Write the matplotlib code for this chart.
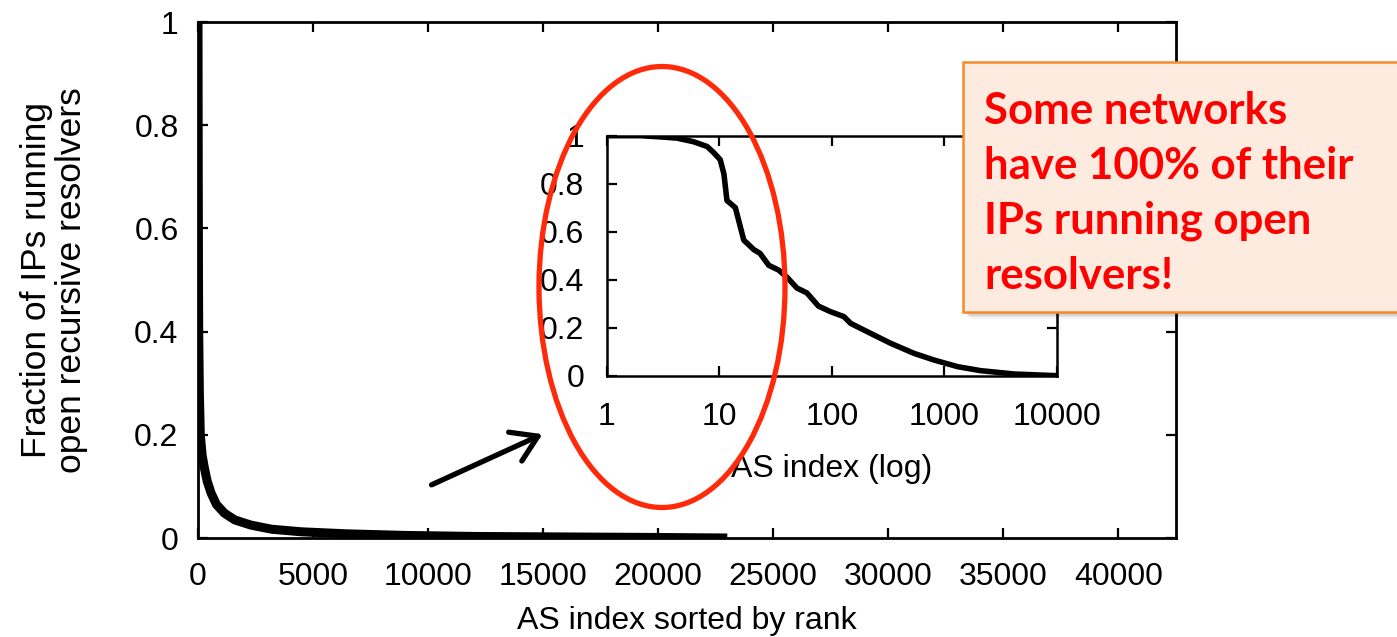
import matplotlib
matplotlib.use("Agg")
import matplotlib.pyplot as plt
from matplotlib.patches import Ellipse, Rectangle, FancyArrowPatch
from matplotlib.ticker import FixedLocator, NullLocator

plt.rcParams['font.family'] = ['Liberation Sans', 'DejaVu Sans']

# ---- data ----
main_rank = [0, 5, 10, 20, 30, 60, 100, 180, 280, 400, 570, 800, 1150, 1600,
             2300, 3200, 4500, 6500, 9000, 12000, 16000, 20000, 23000]
main_frac = [1.0, 0.85, 0.72, 0.52, 0.40, 0.28, 0.20, 0.16, 0.135, 0.11, 0.087,
             0.065, 0.048, 0.035, 0.025, 0.017, 0.012, 0.008, 0.005, 0.003,
             0.002, 0.001, 0.0]

inset_rank = [1, 2, 3, 4.2, 5.9, 7.8, 8.9, 10.2, 11, 11.7, 13.9, 16.5, 20.3, 23,
              27.5, 33.7, 40, 49, 60, 76, 97, 128, 147, 207, 333, 537, 813,
              1313, 2100, 4170, 10000]
inset_frac = [1.0, 1.0, 0.995, 0.99, 0.975, 0.955, 0.93, 0.90, 0.84, 0.73, 0.70,
              0.565, 0.525, 0.51, 0.46, 0.44, 0.41, 0.365, 0.345, 0.29, 0.267,
              0.246, 0.218, 0.183, 0.135, 0.093, 0.065, 0.0375, 0.021, 0.007, 0.0]

main_xticks = [0, 5000, 10000, 15000, 20000, 25000, 30000, 35000, 40000]
main_yticks = [0, 0.2, 0.4, 0.6, 0.8, 1]
main_ytick_labels = ['0', '0.2', '0.4', '0.6', '0.8', '1']
inset_xticks = [1, 10, 100, 1000, 10000]
inset_xtick_labels = ['1', '10', '100', '1000', '10000']

xlabel_main = 'AS index sorted by rank'
ylabel_main = 'Fraction of IPs running\nopen recursive resolvers'
xlabel_inset = 'AS index (log)'
callout = 'Some networks\nhave 100% of their\nIPs running open\nresolvers!'

W, H = 1397, 637
fig = plt.figure(figsize=(W / 100, H / 100), dpi=100)

def fx(px):
    return px / W

def fy(py):
    return 1 - py / H

FS = 23

# ---- main axes ----
ax = fig.add_axes([fx(198), fy(538), fx(1176) - fx(198), fy(22) - fy(538)])
ax.plot(main_rank, main_frac, color='black', lw=6.5, solid_joinstyle='round',
        solid_capstyle='butt')
ax.set_xlim(0, 42500)
ax.set_ylim(0, 1)
ax.set_xticks(main_xticks)
ax.set_xticklabels([str(v) for v in main_xticks])
ax.set_yticks(main_yticks)
ax.set_yticklabels(main_ytick_labels)
ax.tick_params(direction='in', length=7, width=1.6, top=True, right=True,
               labelsize=FS, pad=17)
ax.tick_params(axis='y', pad=14)
for s in ax.spines.values():
    s.set_linewidth(2.0)
ax.set_xlabel(xlabel_main, fontsize=FS, labelpad=10)
ax.set_ylabel(ylabel_main, fontsize=25.5, labelpad=33, linespacing=1.1)

# ---- inset axes ----
ia = fig.add_axes([fx(606.7), fy(375.7), fx(1057) - fx(606.7), fy(135.7) - fy(375.7)])
ia.plot(inset_rank, inset_frac, color='black', lw=4, solid_joinstyle='round')
ia.set_xscale('log')
ia.set_xlim(1, 10000)
ia.set_ylim(0, 1)
ia.xaxis.set_major_locator(FixedLocator(inset_xticks))
ia.xaxis.set_minor_locator(NullLocator())
ia.set_xticklabels(inset_xtick_labels)
ia.set_yticks(main_yticks)
ia.set_yticklabels(main_ytick_labels)
ia.tick_params(direction='in', length=7, width=1.6, top=True, right=True,
               labelsize=FS, pad=19)
ia.tick_params(axis='y', pad=16)
for s in ia.spines.values():
    s.set_linewidth(1.8)
ia.set_xlabel(xlabel_inset, fontsize=FS, labelpad=16)

# ---- red ellipse ----
ell = Ellipse((fx(662), fy(287)), fx(246), 441 / H, transform=fig.transFigure,
              fill=False, edgecolor='#FF2A0A', lw=3.8, zorder=10)
fig.patches.append(ell)

# ---- arrow ----
arr = FancyArrowPatch((fx(429), fy(486)), (fx(545), fy(433)),
                      transform=fig.transFigure, arrowstyle='->,head_length=0.6,head_width=0.38',
                      mutation_scale=30, lw=3.8, color='black', zorder=10)
fig.patches.append(arr)

# ---- callout box with shadow ----
bx0, by0, bx1, by1 = 963, 62, 1420, 312
for i, a in enumerate([0.10, 0.08, 0.06, 0.04]):
    off = 2 + i * 1.5
    sh = Rectangle((fx(bx0 + off), fy(by1 + off)), fx(bx1 - bx0), (by1 - by0) / H,
                   transform=fig.transFigure, facecolor='black', edgecolor='none',
                   alpha=a, zorder=11)
    fig.patches.append(sh)
box = Rectangle((fx(bx0), fy(by1)), fx(bx1 - bx0), (by1 - by0) / H,
                transform=fig.transFigure, facecolor='#FDEBDF', edgecolor='#F58A2A',
                lw=1.8, zorder=12)
fig.patches.append(box)
fig.text(fx(984), fy(91), callout, ha='left', va='top', color='#FF0000',
         fontsize=31.5, fontweight='bold', family=['Lato', 'DejaVu Sans'],
         linespacing=1.45, zorder=13)

fig.savefig('out.png', dpi=100)
